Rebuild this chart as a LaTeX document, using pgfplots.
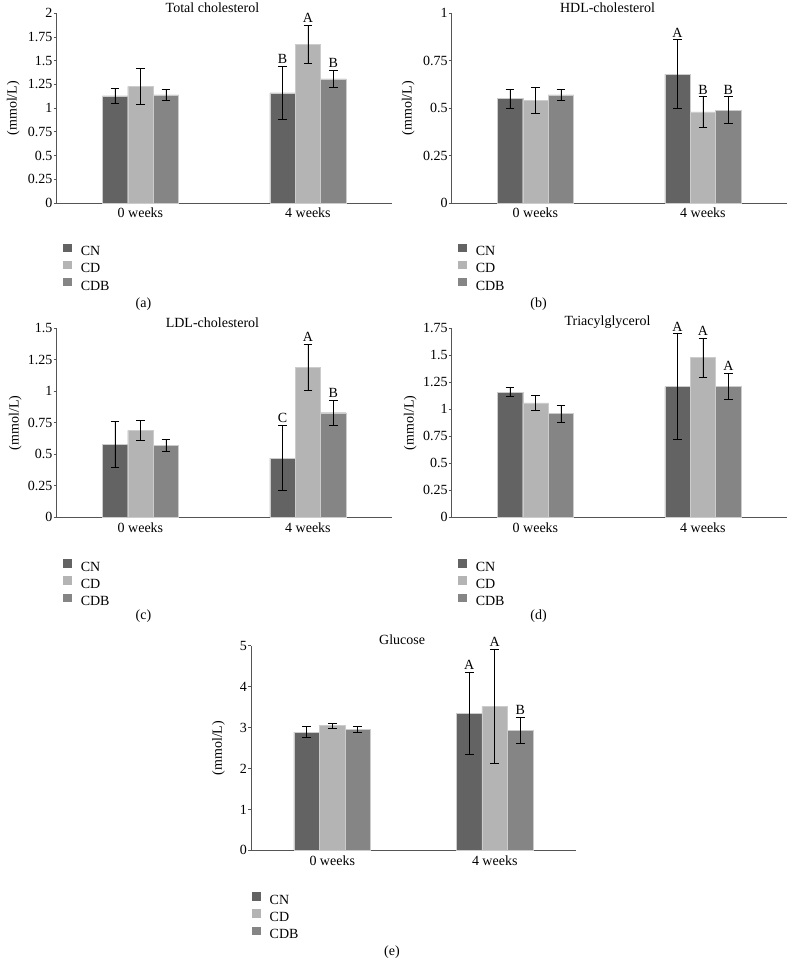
\documentclass[border=0pt]{standalone}
\usepackage{fontspec}
\setmainfont{Liberation Serif}
\usepackage{pgfplots}
\pgfplotsset{compat=1.18}
\definecolor{cn}{RGB}{99,99,99}
\definecolor{cd}{RGB}{180,180,180}
\definecolor{cdb}{RGB}{133,133,133}
\definecolor{axisc}{RGB}{85,85,85}
\pgfplotsset{
  /pgf/number format/assume math mode=true,
  panel/.style={
    scale only axis,
    width=335pt, height=189.7pt,
    xmin=-0.5, xmax=1.5, ymin=0,
    axis lines*=left,
    axis line style={draw=axisc, line width=0.8pt},
    xtick={0,1}, xticklabels={0 weeks,4 weeks},
    x tick style={draw=none},
    y tick style={draw=axisc, line width=0.8pt},
    tick align=outside,
    major tick length=3pt,
    clip=false,
    title style={at={(axis description cs:0.465,1)}, anchor=center},
    every axis y label/.style={at={(axis description cs:-0.13,0.5)}, rotate=90, anchor=center},
    ylabel={(mmol/L)},
    legend style={draw=none, fill=none, at={(axis description cs:0.019,-0.213)}, anchor=north west, inner sep=0pt, row sep=3pt, column sep=9pt, nodes={inner sep=0pt}},
    legend cell align=left,
    yticklabel style={inner sep=1pt},
    xticklabel style={inner sep=2pt},
  },
  bars/.style={ybar, bar width=#1, bar shift=0pt, draw=white!80!black, line width=0.4pt,
    legend image code/.code={\fill[##1, draw=none] (0pt,0pt) rectangle (8.5pt,8.5pt);},
    /pgfplots/error bars/y dir=both,
    /pgfplots/error bars/y explicit,
    /pgfplots/error bars/error bar style={black, line width=0.8pt},
    /pgfplots/error bars/error mark options={rotate=90, mark size=4.3pt, black, line width=0.8pt}},
  bars/.default=0.152,
  lbl/.style={draw=none, nodes near coords, point meta=explicit symbolic,
    nodes near coords style={anchor=south, inner sep=2.5pt}},
}
\begin{document}
\fontsize{14pt}{16.8pt}\selectfont
\begin{tikzpicture}
\useasboundingbox (0pt,0pt) rectangle (790pt,-978pt);

% (a) Total cholesterol
\begin{axis}[panel, at={(56.7pt,-203pt)}, anchor=south west,
  ymax=2, ytick={0,0.25,...,2}, title={Total cholesterol}]
\addplot[fill=cn, bars] coordinates {(-0.152,1.13) +- (0,0.08) (0.848,1.16) +- (0,0.28)};
\addplot[fill=cd, bars] coordinates {(0,1.23) +- (0,0.19) (1,1.67) +- (0,0.20)};
\addplot[fill=cdb, bars] coordinates {(0.152,1.14) +- (0,0.06) (1.152,1.31) +- (0,0.09)};
\legend{CN,CD,CDB}
\addplot[lbl] coordinates {(0.848,1.44) [B] (1,1.87) [A] (1.152,1.40) [B]};
\end{axis}

% (b) HDL-cholesterol
\begin{axis}[panel, at={(451.7pt,-203pt)}, anchor=south west,
  ymax=1, ytick={0,0.25,...,1}, title={HDL-cholesterol}]
\addplot[fill=cn, bars] coordinates {(-0.152,0.55) +- (0,0.05) (0.848,0.68) +- (0,0.18)};
\addplot[fill=cd, bars] coordinates {(0,0.54) +- (0,0.07) (1,0.48) +- (0,0.08)};
\addplot[fill=cdb, bars] coordinates {(0.152,0.57) +- (0,0.03) (1.152,0.49) +- (0,0.07)};
\legend{CN,CD,CDB}
\addplot[lbl] coordinates {(0.848,0.86) [A] (1,0.56) [B] (1.152,0.56) [B]};
\end{axis}

% (c) LDL-cholesterol
\begin{axis}[panel, at={(56.7pt,-517.3pt)}, anchor=south west, height=189pt,
  ymax=1.5, ytick={0,0.25,...,1.5}, title={LDL-cholesterol},
  every axis y label/.append style={at={(axis description cs:-0.124,0.5)}},
  legend style={at={(axis description cs:0.019,-0.221)}}]
\addplot[fill=cn, bars] coordinates {(-0.152,0.58) +- (0,0.18) (0.848,0.47) +- (0,0.26)};
\addplot[fill=cd, bars] coordinates {(0,0.69) +- (0,0.08) (1,1.19) +- (0,0.18)};
\addplot[fill=cdb, bars] coordinates {(0.152,0.57) +- (0,0.05) (1.152,0.83) +- (0,0.10)};
\legend{CN,CD,CDB}
\addplot[lbl] coordinates {(0.848,0.73) [C] (1,1.37) [A] (1.152,0.93) [B]};
\end{axis}

% (d) Triacylglycerol
\begin{axis}[panel, at={(451.7pt,-517.3pt)}, anchor=south west, height=189pt,
  ymax=1.75, ytick={0,0.25,...,1.75}, title={Triacylglycerol},
  every axis y label/.append style={at={(axis description cs:-0.124,0.5)}},
  legend style={at={(axis description cs:0.019,-0.221)}}]
\addplot[fill=cn, bars] coordinates {(-0.152,1.16) +- (0,0.04) (0.848,1.21) +- (0,0.49)};
\addplot[fill=cd, bars] coordinates {(0,1.06) +- (0,0.07) (1,1.48) +- (0,0.18)};
\addplot[fill=cdb, bars] coordinates {(0.152,0.96) +- (0,0.08) (1.152,1.21) +- (0,0.12)};
\legend{CN,CD,CDB}
\addplot[lbl] coordinates {(0.848,1.70) [A] (1,1.66) [A] (1.152,1.33) [A]};
\end{axis}

% (e) Glucose
\begin{axis}[panel, at={(251pt,-850.3pt)}, anchor=south west, width=325pt, height=204.6pt,
  ymax=5, ytick={0,1,...,5}, title={Glucose},
  every axis y label/.append style={at={(axis description cs:-0.10,0.5)}},
  legend style={at={(axis description cs:0.003,-0.204)}}]
\addplot[fill=cn, bars=0.157] coordinates {(-0.157,2.89) +- (0,0.14) (0.843,3.35) +- (0,1.01)};
\addplot[fill=cd, bars=0.157] coordinates {(0,3.05) +- (0,0.06) (1,3.52) +- (0,1.40)};
\addplot[fill=cdb, bars=0.157] coordinates {(0.157,2.96) +- (0,0.08) (1.157,2.93) +- (0,0.31)};
\legend{CN,CD,CDB}
\addplot[lbl] coordinates {(0.843,4.36) [A] (1,4.92) [A] (1.157,3.24) [B]};
\end{axis}

\node at (143.5pt,-304pt) {(a)};
\node at (538.5pt,-304pt) {(b)};
\node at (143.5pt,-616pt) {(c)};
\node at (538.5pt,-616pt) {(d)};
\node at (392pt,-952pt) {(e)};
\end{tikzpicture}
\end{document}
